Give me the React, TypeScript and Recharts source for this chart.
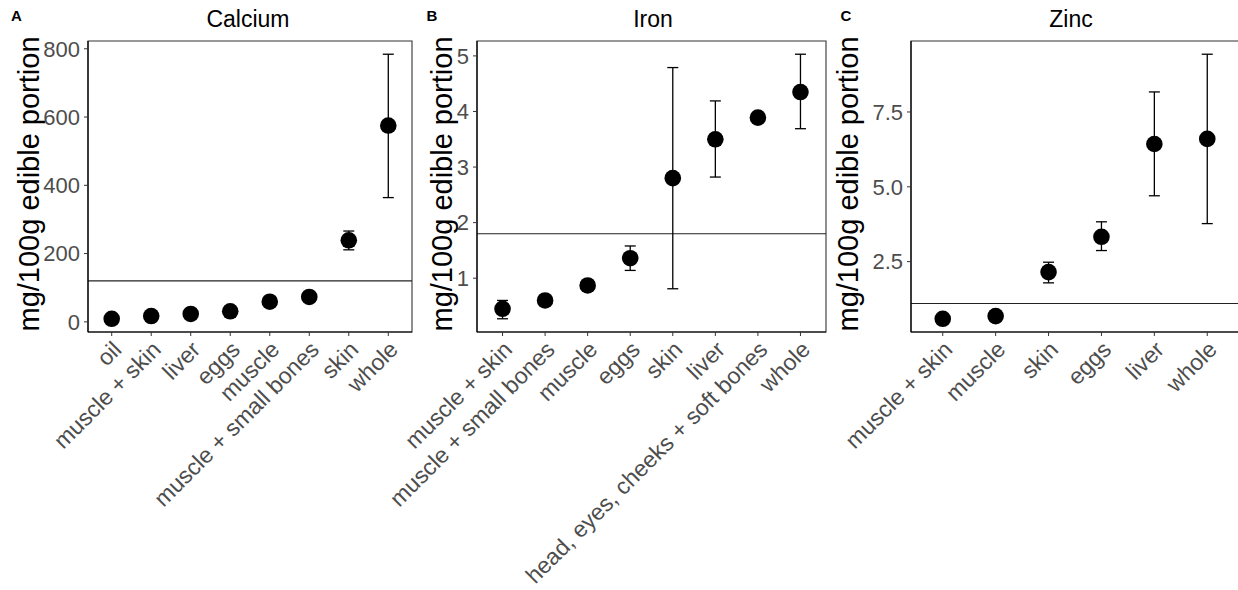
import { ScatterChart, Scatter, ErrorBar, XAxis, YAxis, ReferenceLine, ReferenceArea } from "recharts";

// Calcium
const calciumParts = ["oil", "muscle + skin", "liver", "eggs", "muscle", "muscle + small bones", "skin", "whole"];
const calciumMean = [9, 17, 23, 31, 59, 73, 239, 575];
const calciumLow = [9, 17, 23, 31, 59, 73, 211, 364];
const calciumHigh = [9, 17, 23, 31, 59, 73, 266, 784];
const calciumTicks = [0, 200, 400, 600, 800];
const calciumRef = 120;

// Iron
const ironParts = [
  "muscle + skin",
  "muscle + small bones",
  "muscle",
  "eggs",
  "skin",
  "liver",
  "head, eyes, cheeks + soft bones",
  "whole",
];
const ironMean = [0.45, 0.6, 0.87, 1.36, 2.8, 3.5, 3.89, 4.35];
const ironLow = [0.27, 0.6, 0.87, 1.14, 0.81, 2.82, 3.89, 3.69];
const ironHigh = [0.6, 0.6, 0.87, 1.58, 4.79, 4.19, 3.89, 5.03];
const ironTicks = [1, 2, 3, 4, 5];
const ironRef = 1.8;

// Zinc
const zincParts = ["muscle + skin", "muscle", "skin", "eggs", "liver", "whole"];
const zincMean = [0.59, 0.68, 2.15, 3.33, 6.43, 6.6];
const zincLow = [0.59, 0.68, 1.79, 2.87, 4.7, 3.77];
const zincHigh = [0.59, 0.68, 2.48, 3.83, 8.17, 9.43];
const zincTicks = [2.5, 5.0, 7.5];
const zincRef = 1.1;

const FONT = "'Liberation Sans', Arial, Helvetica, sans-serif";
const TICK_GREY = "#4D4D4D";
const WIDTH = 1238;
const HEIGHT = 590;

const buildRows = (mean: number[], low: number[], high: number[]) =>
  mean.map((m, i) => ({ idx: i, mean: m, err: [m - low[i], high[i] - m] }));

// ggplot-style 5% expansion of the data range
const expand = (low: number[], high: number[]): [number, number] => {
  const lo = Math.min(...low);
  const hi = Math.max(...high);
  const pad = (hi - lo) * 0.05;
  return [lo - pad, hi + pad];
};

const AngledTick = (props: any) => {
  const { x, y, payload, names } = props;
  return (
    <g transform={`translate(${x},${y}) rotate(-45)`}>
      <text x={0} y={0} dy="0.68em" textAnchor="end" fill={TICK_GREY} fontSize={23} fontFamily={FONT}>
        {names[payload.value]}
      </text>
    </g>
  );
};

const Dot = (p: any) => <circle cx={p.cx} cy={p.cy} r={8.3} fill="#000" />;

interface PanelProps {
  letter: string;
  title: string;
  names: string[];
  mean: number[];
  low: number[];
  high: number[];
  ticks: number[];
  refValue: number;
  decimals: number;
  left: number;
  plotRight: number;
  axisWidth: number;
  letterX: number;
  titleX: number;
  labelX: number;
}

// every panel spans the full page so rotated labels never get clipped
const Panel = (p: PanelProps) => {
  const rows = buildRows(p.mean, p.low, p.high);
  const domain = expand(p.low, p.high);
  const n = p.names.length;
  const xTicks = p.names.map((_, i) => i);

  return (
    <div style={{ position: "absolute", left: 0, top: 0, width: WIDTH, height: HEIGHT }}>
      <ScatterChart
        width={WIDTH + 10}
        height={HEIGHT}
        margin={{ top: 41, right: WIDTH + 10 - p.plotRight, bottom: 8, left: p.left }}
      >
        <XAxis
          type="number"
          dataKey="idx"
          domain={[-0.6, n - 0.4]}
          allowDataOverflow
          ticks={xTicks}
          interval={0}
          height={250}
          tickSize={4}
          tickMargin={4}
          tickLine={{ stroke: "#333" }}
          axisLine={{ stroke: "#000", strokeWidth: 1.2 }}
          tick={<AngledTick names={p.names} />}
        />
        <YAxis
          type="number"
          dataKey="mean"
          domain={domain}
          allowDataOverflow
          ticks={p.ticks}
          interval={0}
          width={p.axisWidth}
          tickSize={4}
          tickMargin={4}
          tickLine={{ stroke: "#333" }}
          axisLine={{ stroke: "#000", strokeWidth: 1.2 }}
          tick={{ fill: TICK_GREY, fontSize: 22, fontFamily: FONT }}
          tickFormatter={(v: number) => v.toFixed(p.decimals)}
        />
        <ReferenceLine y={p.refValue} stroke="#222" strokeWidth={1.1} />
        <Scatter data={rows} shape={Dot} isAnimationActive={false}>
          <ErrorBar dataKey="err" direction="y" width={5.5} stroke="#000" strokeWidth={1.3} isAnimationActive={false} />
        </Scatter>
        <ReferenceArea
          x1={-0.6}
          x2={n - 0.4}
          y1={domain[0]}
          y2={domain[1]}
          fill="none"
          fillOpacity={0}
          stroke="#333"
          strokeWidth={1.1}
          ifOverflow="visible"
        />
      </ScatterChart>
      <svg
        width={WIDTH}
        height={HEIGHT}
        style={{ position: "absolute", left: 0, top: 0, pointerEvents: "none" }}
      >
        <text x={p.left + p.letterX} y={20.5} fontSize={15} fontWeight="bold" fontFamily={FONT} fill="#000">
          {p.letter}
        </text>
        <text x={p.left + p.titleX} y={27} fontSize={23} textAnchor="middle" fontFamily={FONT} fill="#000">
          {p.title}
        </text>
        <text
          transform={`translate(${p.left + p.labelX},184) rotate(-90)`}
          fontSize={29}
          textAnchor="middle"
          fontFamily={FONT}
          fill="#000"
        >
          mg/100g edible portion
        </text>
      </svg>
    </div>
  );
};

export default function App() {
  return (
    <div
      style={{
        position: "absolute",
        left: 0,
        top: 0,
        width: WIDTH,
        height: HEIGHT,
        overflow: "hidden",
        background: "#fff",
        fontFamily: FONT,
      }}
    >
      <Panel
        letter="A"
        title="Calcium"
        names={calciumParts}
        mean={calciumMean}
        low={calciumLow}
        high={calciumHigh}
        ticks={calciumTicks}
        refValue={calciumRef}
        decimals={0}
        left={0}
        plotRight={412}
        axisWidth={88}
        letterX={11}
        titleX={248}
        labelX={38.5}
      />
      <Panel
        letter="B"
        title="Iron"
        names={ironParts}
        mean={ironMean}
        low={ironLow}
        high={ironHigh}
        ticks={ironTicks}
        refValue={ironRef}
        decimals={0}
        left={420}
        plotRight={826}
        axisWidth={57}
        letterX={6.5}
        titleX={233}
        labelX={32}
      />
      <Panel
        letter="C"
        title="Zinc"
        names={zincParts}
        mean={zincMean}
        low={zincLow}
        high={zincHigh}
        ticks={zincTicks}
        refValue={zincRef}
        decimals={1}
        left={840}
        plotRight={1239}
        axisWidth={71}
        letterX={0.5}
        titleX={231}
        labelX={18}
      />
    </div>
  );
}
